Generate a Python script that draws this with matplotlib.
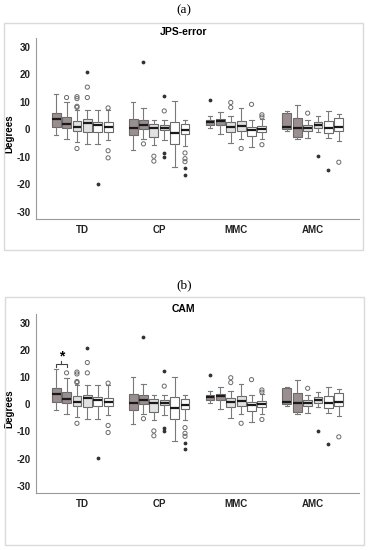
import numpy as np
import matplotlib.pyplot as plt
from matplotlib.patches import Rectangle

# groups and box statistics (6 boxes per group, values in degrees)
groups = ['TD', 'CP', 'MMC', 'AMC']
box_fill = ['#9b8e8e', '#9b8e8e', '#e2e2e2', '#e2e2e2', '#ffffff', '#ffffff']

whislo = [-2.2, -3.7, -4.7, -5.5, -5.5, -4.0,
          -7.4, -3.7, -5.8, -4.0, -13.7, -5.9,
          0.6, -1.7, -4.9, -3.4, -6.4, -3.4,
          -0.6, -3.7, -3.3, -1.0, -3.3, -4.3]
q1 = [0.8, 0.6, -0.5, -1.0, -0.8, -0.8,
      -2.2, 0.0, -2.7, -0.3, -5.5, -1.8,
      1.5, 1.7, -1.0, -0.6, -2.5, -1.0,
      0.2, -2.7, -0.6, 0.4, -1.5, -0.6]
med = [3.7, 2.1, 0.7, 2.3, 1.6, 1.0,
       0.6, 1.7, 0.4, 0.6, -1.2, -0.4,
       2.7, 2.9, 0.7, 1.2, -0.3, 0.2,
       1.0, 0.4, 0.4, 1.7, 0.6, 0.8]
q3 = [6.1, 4.5, 2.9, 3.6, 2.8, 2.5,
      3.7, 3.4, 1.8, 1.6, 2.7, 1.8,
      3.4, 3.7, 2.5, 3.1, 0.7, 1.2,
      6.1, 4.3, 1.6, 2.7, 2.9, 4.3]
whishi = [12.9, 9.8, 7.0, 7.0, 7.2, 7.0,
          10.0, 7.6, 3.3, 3.4, 10.2, 3.4,
          4.9, 6.4, 4.9, 7.6, 3.4, 3.7,
          6.5, 8.9, 3.3, 4.7, 6.5, 5.5]
# outliers (circles) and extremes (stars)
circles = [[], [11.6], [11.9, 11.2, 8.4, 8.0, -7.0], [15.4, 11.6], [], [7.8, -7.8, -10.4],
           [], [-5.3], [-9.8, -11.6], [6.7], [], [-8.6, -10.7, -11.8],
           [], [], [9.8, 8.0], [-7.0], [9.1], [5.3, 4.5, -5.6],
           [], [], [5.9], [], [], [-12.0]]
stars = [[], [], [], [20.8], [-19.9], [],
         [], [24.7], [], [12.3, -8.6, -10.0], [], [-14.1, -16.5],
         [10.7], [], [], [], [], [],
         [], [], [], [-9.8], [-14.7], []]

yticks = [-30, -20, -10, 0, 10, 20, 30]

W, H = 368, 550
plt.rcParams['font.family'] = ['Liberation Sans', 'DejaVu Sans']
plt.rcParams['axes.unicode_minus'] = False
fig = plt.figure(figsize=(W / 100, H / 100), dpi=100)

offsets = (np.arange(6) - 2.5) * 0.135
positions = [g + o for g in range(len(groups)) for o in offsets]


def draw_panel(ax, title, frame, title_y):
    stats = []
    for i in range(len(med)):
        stats.append(dict(whislo=whislo[i], q1=q1[i], med=med[i], q3=q3[i],
                          whishi=whishi[i], fliers=[]))
    bp = ax.bxp(stats, positions=positions, widths=0.115, capwidths=0.06,
                showfliers=False, patch_artist=True,
                boxprops=dict(edgecolor='#6a6a6a', linewidth=0.8),
                whiskerprops=dict(color='#7a7a7a', linewidth=0.8),
                capprops=dict(color='#7a7a7a', linewidth=0.8),
                medianprops=dict(color='#1a1a1a', linewidth=1.6))
    for i, b in enumerate(bp['boxes']):
        b.set_facecolor(box_fill[i % 6])
    for i, p in enumerate(positions):
        if circles[i]:
            ax.scatter([p] * len(circles[i]), circles[i], s=9, facecolors='none',
                       edgecolors='#6a6a6a', linewidths=0.7, zorder=3)
        if stars[i]:
            ax.scatter([p] * len(stars[i]), stars[i], s=3, color='#333333', zorder=3)
    ax.set_xlim(-0.6, 3.6)
    ax.set_ylim(-32.7, 33.3)
    ax.set_yticks(yticks)
    ax.set_xticks(range(len(groups)))
    ax.set_xticklabels(groups, fontsize=7, fontweight='bold')
    ax.tick_params(axis='both', length=0, labelsize=7, colors='#222222')
    for lab in ax.get_yticklabels():
        lab.set_fontweight('bold')
    ax.tick_params(axis='y', pad=4)
    ax.tick_params(axis='x', pad=4)
    ax.set_ylabel('Degrees', fontsize=7, fontweight='bold')
    ax.yaxis.set_label_coords(-0.068, 0.47)
    for s in ['top', 'right']:
        ax.spines[s].set_visible(False)
    for s in ['left', 'bottom']:
        ax.spines[s].set_color('#9a9a9a')
        ax.spines[s].set_linewidth(0.8)
    x0, y0, x1, y1 = frame
    fig.add_artist(Rectangle((x0 / W, 1 - y1 / H), (x1 - x0) / W, (y1 - y0) / H,
                             transform=fig.transFigure, fill=False,
                             edgecolor='#dadada', linewidth=1.0))
    fig.text(183.5 / W, 1 - title_y / H, title, ha='center', va='center',
             fontsize=7.5, fontweight='bold')


ax_a = fig.add_axes([36 / W, 1 - 219 / H, 323 / W, 181 / H])
draw_panel(ax_a, 'JPS-error', (4, 23, 363, 250), 32)
fig.text(184 / W, 1 - 10 / H, '(a)', ha='center', va='center', fontsize=9.5,
         family='Liberation Serif')

ax_b = fig.add_axes([36 / W, 1 - 493 / H, 323 / W, 179 / H])
draw_panel(ax_b, 'CAM', (5, 297, 364, 545), 309)
fig.text(184 / W, 1 - 285 / H, '(b)', ha='center', va='center', fontsize=9.5,
         family='Liberation Serif')

# significance bracket between first two TD boxes in panel (b)
bx1, bx2 = positions[0], positions[1]
ax_b.plot([bx1, bx1, bx2, bx2], [13.8, 15.0, 15.0, 13.8], color='#444444', lw=0.8)
ax_b.plot([(bx1 + bx2) / 2] * 2, [15.0, 16.0], color='#444444', lw=0.8)
ax_b.text((bx1 + bx2) / 2, 17.5, '*', ha='center', va='center', fontsize=10,
          fontweight='bold')

fig.savefig('out.png', dpi=100)
